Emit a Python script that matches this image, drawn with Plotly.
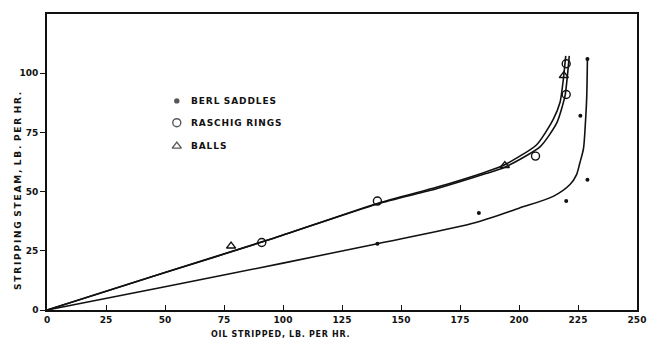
import plotly.graph_objects as go

# Measured points: oil stripped (lb/hr) vs stripping steam (lb/hr)
berl_x = [140, 183, 220, 229, 226, 229]
berl_y = [28, 41, 46, 55, 82, 106]

rings_x = [91, 140, 207, 220, 220]
rings_y = [28.5, 46, 65, 91, 104]

balls_x = [78, 194, 219]
balls_y = [27, 61, 99]

# Smoothed correlation curves
berl_curve_x = [0, 50, 100, 140, 180, 200, 214.5, 221.6, 224.4, 225.8, 227.3, 228.2, 228.7, 229]
berl_curve_y = [0, 9.8, 19.8, 28, 36.5, 43, 48, 53, 57.2, 62.2, 68, 80, 90, 106.5]

rings_curve_x = [0, 50, 95, 140, 165, 185, 193.3, 207.5, 214.5, 217.4, 218.8, 219.8]
rings_curve_y = [0, 15.8, 30, 45, 51.8, 58, 61, 69.8, 80.5, 87.7, 97.5, 107.3]

balls_curve_x = [0, 50, 95, 140, 165, 186, 194, 209, 216, 219.5, 220.5, 221.3]
balls_curve_y = [0, 15.8, 30, 44.8, 51.2, 57.6, 60.3, 69, 79, 90.4, 98.8, 107.3]

x_ticks = [0, 25, 50, 75, 100, 125, 150, 175, 200, 225, 250]
y_ticks = [0, 25, 50, 75, 100]

legend_labels = ["BERL SADDLES", "RASCHIG RINGS", "BALLS"]
legend_symbols = ["circle", "circle-open", "triangle-up-open"]
legend_sizes = [4, 8, 8]
legend_y = [88.3, 79.1, 69.2]

x_title = "OIL STRIPPED, LB. PER HR."
y_title = "STRIPPING STEAM, LB. PER HR."

ink = "#111111"
font_family = "DejaVu Sans"


def tracked(text, gap="\u200a"):
    """Widen letter spacing, lettering-guide style."""
    words = text.split(" ")
    return "\u2002".join(gap.join(w) for w in words)


fig = go.Figure()

for cx, cy, sm in [(berl_curve_x, berl_curve_y, 0.8),
                   (rings_curve_x, rings_curve_y, 0.6),
                   (balls_curve_x, balls_curve_y, 0.6)]:
    fig.add_trace(go.Scatter(x=cx, y=cy, mode="lines",
                             line=dict(color=ink, width=1.6, shape="spline", smoothing=sm),
                             hoverinfo="skip", showlegend=False))

fig.add_trace(go.Scatter(x=berl_x, y=berl_y, mode="markers", name="BERL SADDLES",
                         marker=dict(symbol="circle", size=4, color=ink),
                         showlegend=False))
fig.add_trace(go.Scatter(x=rings_x, y=rings_y, mode="markers", name="RASCHIG RINGS",
                         marker=dict(symbol="circle-open", size=8, color=ink,
                                     line=dict(width=1.4, color=ink)),
                         showlegend=False))
fig.add_trace(go.Scatter(x=balls_x, y=balls_y, mode="markers", name="BALLS",
                         marker=dict(symbol="triangle-up-open", size=8, color=ink,
                                     line=dict(width=1.4, color=ink)),
                         showlegend=False))

# In-plot key
fig.add_trace(go.Scatter(x=[55.0] * 3, y=legend_y, mode="markers",
                         marker=dict(symbol=legend_symbols, size=legend_sizes, color=ink,
                                     line=dict(width=1.4, color=ink)),
                         hoverinfo="skip", showlegend=False))
for label, ly in zip(legend_labels, legend_y):
    fig.add_annotation(x=60, y=ly, text=tracked(label), showarrow=False, xanchor="left",
                       yanchor="middle",
                       font=dict(family=font_family, size=9, color=ink, weight="bold"))

# Axis captions
fig.add_annotation(xref="paper", yref="paper", x=(280 - 47) / 590, y=-0.082,
                   text=tracked(x_title), showarrow=False, xanchor="center", yanchor="middle",
                   font=dict(family=font_family, size=8, color=ink, weight="bold"))
fig.add_annotation(xref="paper", yref="paper", x=-(47 - 18) / 590, y=(310 - 191) / 296,
                   text=tracked(y_title, "\u2009"), textangle=-90, showarrow=False,
                   xanchor="center", yanchor="middle",
                   font=dict(family=font_family, size=9, color=ink, weight="bold"))

axis_common = dict(showline=True, linecolor=ink, linewidth=1.6, mirror=True,
                   showgrid=False, zeroline=False, ticks="outside", ticklen=5,
                   tickwidth=1.2, tickcolor=ink, automargin=False,
                   tickfont=dict(family=font_family, size=9, color=ink, weight="bold"))

fig.update_xaxes(range=[0, 250], tickvals=x_ticks, **axis_common)
fig.update_xaxes(ticks="inside")
fig.update_yaxes(range=[0, 125], tickvals=y_ticks, **axis_common)

fig.update_layout(width=648, height=339,
                  margin=dict(l=47, r=11, t=14, b=29),
                  paper_bgcolor="white", plot_bgcolor="white")

fig.write_html("out.html")
